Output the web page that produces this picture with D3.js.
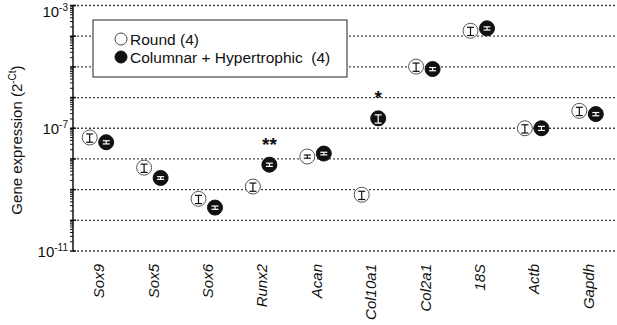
<html>
<head>
<style>
  body { margin: 0; background: #fff; }
  text { font-family: "Liberation Sans", Arial, sans-serif; fill: #111; }
</style>
</head>
<body>
<svg id="chart" width="617" height="325"></svg>

<script src="https://d3js.org/d3.v7.min.js"></script>
<script>

// data (2^-Ct, mean of 4)
var genes = ["Sox9", "Sox5", "Sox6", "Runx2", "Acan", "Col10a1", "Col2a1", "18S", "Actb", "Gapdh"]
var roundVals = [5.0e-8, 5.2e-9, 5.0e-10, 1.26e-9, 1.2e-8, 6.8e-10, 1.02e-5, 1.5e-4, 1.0e-7, 3.7e-7]
var columnarVals = [3.5e-8, 2.4e-9, 2.6e-10, 6.5e-9, 1.5e-8, 2.1e-7, 8.5e-6, 1.8e-4, 1.0e-7, 2.9e-7]
// sem as a fraction of the mean
var roundSem = [0.3, 0.3, 0.3, 0.3, 0.12, 0.3, 0.3, 0.3, 0.3, 0.3]
var columnarSem = [0.12, 0.1, 0.12, 0.12, 0.1, 0.3, 0.12, 0.12, 0.15, 0.12]
var signif = ["", "", "", "**", "", "*", "", "", "", ""]
var labelTicks = [1e-3, 1e-7, 1e-11]

var svg = d3.select("#chart")

var x = d3.scaleBand()
  .domain(genes)
  .range([71, 615])

var y = d3.scaleLog()
  .domain([1e-11, 1e-3])
  .range([251, 5.5])

var majors = d3.range(-11, -2).map(function(e) { return Math.pow(10, e) })
var minors = []
majors.slice(0, -1).forEach(function(m) {
  for (var k = 2; k < 10; k++) minors.push(m * k)
})

// dotted gridlines at each decade
svg.append("g")
  .selectAll("line")
  .data(majors)
  .enter()
  .append("line")
    .attr("x1", 73)
    .attr("x2", 617)
    .attr("y1", function(d) { return y(d) })
    .attr("y2", function(d) { return y(d) })
    .attr("stroke", "#444")
    .attr("stroke-width", 1.3)
    .style("stroke-dasharray", "2,2")

// y axis
var yAxis = svg.append("g").attr("transform", "translate(73,0)")
yAxis.append("line")
  .attr("x1", 0).attr("x2", 0)
  .attr("y1", y(1e-3)).attr("y2", y(1e-11))
  .attr("stroke", "#111").attr("stroke-width", 1.5)

yAxis.selectAll(".minor")
  .data(minors)
  .enter()
  .append("line")
    .attr("x1", -3).attr("x2", 0)
    .attr("y1", function(d) { return y(d) })
    .attr("y2", function(d) { return y(d) })
    .attr("stroke", "#111")

yAxis.selectAll(".major")
  .data(majors)
  .enter()
  .append("line")
    .attr("x1", -3).attr("x2", 3)
    .attr("y1", function(d) { return y(d) })
    .attr("y2", function(d) { return y(d) })
    .attr("stroke", "#111")
    .attr("stroke-width", 1.5)

var tl = yAxis.selectAll(".tlab")
  .data(labelTicks)
  .enter()
  .append("text")
    .attr("x", -5)
    .attr("y", function(d) { return Math.max(y(d) + 6, 17) })   // top label pushed down so it isn't clipped
    .attr("text-anchor", "end")
    .style("font-size", "15px")
tl.append("tspan").text("10")
tl.append("tspan")
  .attr("dy", -6)
  .style("font-size", "10px")
  .text(function(d) { return Math.round(Math.log10(d)) })

// y title
var yt = svg.append("text")
  .attr("transform", "translate(22,140) rotate(-90)")
  .attr("text-anchor", "middle")
  .style("font-size", "15px")
yt.append("tspan").text("Gene expression (2")
yt.append("tspan").attr("dy", -6).style("font-size", "10px").text("-Ct")
yt.append("tspan").attr("dy", 6).text(")")

// category labels
svg.selectAll(".glab")
  .data(genes)
  .enter()
  .append("text")
    .attr("transform", function(d) { return "translate(" + (x(d) + x.bandwidth() / 2 + 6) + ",264) rotate(-90)" })
    .attr("text-anchor", "end")
    .style("font-size", "15px")
    .style("font-style", "italic")
    .text(function(d) { return d })

// points with error bars
function drawSeries(vals, sems, dx, filled) {
  var g = svg.append("g")
  var pts = g.selectAll("g")
    .data(genes.map(function(d, i) { return {gene: d, v: vals[i], s: sems[i]} }))
    .enter()
    .append("g")
      .attr("transform", function(d) { return "translate(" + (x(d.gene) + x.bandwidth() / 2 + dx) + ",0)" })

  pts.append("circle")
    .attr("cy", function(d) { return y(d.v) })
    .attr("r", 7.5)
    .attr("fill", filled ? "#111" : "#fff")
    .attr("stroke", filled ? "#111" : "#555")
    .attr("stroke-width", 1)

  var col = filled ? "#fff" : "#111"
  pts.append("line")
    .attr("y1", function(d) { return y(d.v * (1 + d.s)) })
    .attr("y2", function(d) { return y(d.v * (1 - d.s)) })
    .attr("stroke", col).attr("stroke-width", 1.2)
  pts.append("line")
    .attr("x1", -3.5).attr("x2", 3.5)
    .attr("y1", function(d) { return y(d.v * (1 + d.s)) })
    .attr("y2", function(d) { return y(d.v * (1 + d.s)) })
    .attr("stroke", col).attr("stroke-width", 1.2)
  pts.append("line")
    .attr("x1", -3.5).attr("x2", 3.5)
    .attr("y1", function(d) { return y(d.v * (1 - d.s)) })
    .attr("y2", function(d) { return y(d.v * (1 - d.s)) })
    .attr("stroke", col).attr("stroke-width", 1.2)
}

drawSeries(roundVals, roundSem, -8.5, false)
drawSeries(columnarVals, columnarSem, 8, true)

// significance stars above the columnar points
svg.selectAll(".star")
  .data(genes.map(function(d, i) { return {gene: d, v: columnarVals[i], s: signif[i]} }).filter(function(d) { return d.s }))
  .enter()
  .append("text")
    .attr("x", function(d) { return x(d.gene) + x.bandwidth() / 2 + 8 })
    .attr("y", function(d) { return y(d.v) - 14 })
    .attr("text-anchor", "middle")
    .style("font-size", "19px")
    .style("font-weight", "bold")
    .text(function(d) { return d.s })

// legend
var legend = svg.append("g")
legend.append("rect")
  .attr("x", 93).attr("y", 20)
  .attr("width", 254).attr("height", 57)
  .attr("fill", "#fff")
  .attr("stroke", "#222").attr("stroke-width", 1)

var legItems = [{name: "Round (4)", filled: false}, {name: "Columnar + Hypertrophic  (4)", filled: true}]
legend.selectAll("circle")
  .data(legItems)
  .enter()
  .append("circle")
    .attr("cx", 121)
    .attr("cy", function(d, i) { return 39 + i * 18 })
    .attr("r", 6)
    .attr("fill", function(d) { return d.filled ? "#111" : "#fff" })
    .attr("stroke", function(d) { return d.filled ? "#111" : "#444" })
legend.selectAll("text")
  .data(legItems)
  .enter()
  .append("text")
    .attr("x", 130)
    .attr("y", function(d, i) { return 44.5 + i * 18 })
    .style("font-size", "15.5px")
    .style("white-space", "pre")
    .attr("xml:space", "preserve")
    .text(function(d) { return d.name })

</script>
</body>
</html>
